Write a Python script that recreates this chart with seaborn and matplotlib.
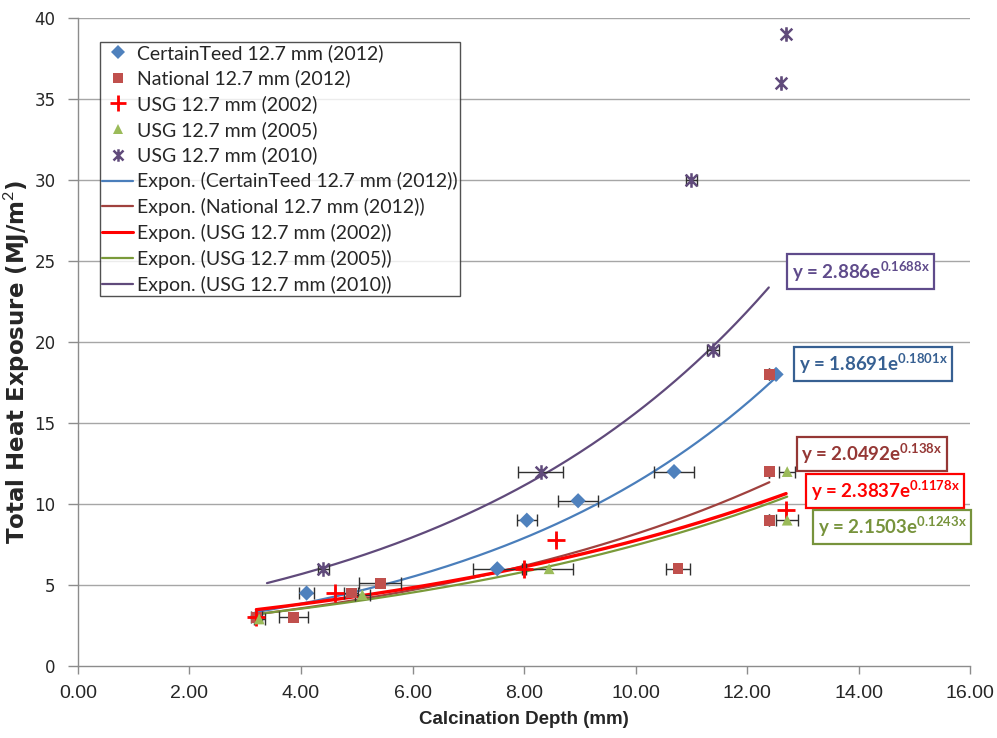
import numpy as np
import pandas as pd
import matplotlib
matplotlib.use("Agg")
import matplotlib.pyplot as plt
from matplotlib.path import Path
from matplotlib.lines import Line2D
import seaborn as sns

# Calcination depth (mm) vs. total heat exposure (MJ/m2), with depth scatter (+/- mm)
ct_depth = [3.2, 4.1, 7.52, 8.05, 8.97, 10.69, 12.52]
ct_heat = [3.0, 4.5, 6.0, 9.0, 10.2, 12.0, 18.0]
ct_err = [0.0, 0.13, 0.44, 0.18, 0.36, 0.36, 0.0]

nat_depth = [3.2, 3.87, 4.9, 5.42, 10.76, 12.4, 12.4, 12.4]
nat_heat = [3.0, 3.0, 4.5, 5.1, 6.0, 9.0, 12.0, 18.0]
nat_err = [0.0, 0.26, 0.13, 0.38, 0.22, 0.0, 0.0, 0.0]

usg02_depth = [3.2, 4.61, 8.0, 8.57, 12.7]
usg02_heat = [3.0, 4.5, 6.0, 7.8, 9.6]
usg02_err = [0.1, 0.0, 0.0, 0.0, 0.0]

usg05_depth = [3.25, 5.1, 8.45, 12.72, 12.72]
usg05_heat = [2.9, 4.4, 6.0, 9.0, 12.0]
usg05_err = [0.1, 0.13, 0.42, 0.2, 0.14]

usg10_depth = [4.4, 8.3, 11.0, 11.39, 12.61, 12.7]
usg10_heat = [6.0, 12.0, 30.0, 19.5, 36.0, 39.0]
usg10_err = [0.1, 0.4, 0.1, 0.1, 0.0, 0.0]

series_names = ["CertainTeed 12.7 mm (2012)", "National 12.7 mm (2012)",
                "USG 12.7 mm (2002)", "USG 12.7 mm (2005)", "USG 12.7 mm (2010)"]

# Exponential trendlines y = a * exp(b * x) and the depth span each one covers
fit_a = [1.8691, 2.0492, 2.3837, 2.1503, 2.886]
fit_b = [0.1801, 0.138, 0.1178, 0.1243, 0.1688]
fit_lo = [3.2, 3.2, 3.2, 3.25, 3.39]
fit_hi = [12.52, 12.4, 12.7, 12.72, 12.39]
eq_text = ["y = 1.8691e$^{\\mathbf{0.1801x}}$", "y = 2.0492e$^{\\mathbf{0.138x}}$",
           "y = 2.3837e$^{\\mathbf{0.1178x}}$", "y = 2.1503e$^{\\mathbf{0.1243x}}$",
           "y = 2.886e$^{\\mathbf{0.1688x}}$"]

x_ticks = [0, 2, 4, 6, 8, 10, 12, 14, 16]
y_ticks = [0, 5, 10, 15, 20, 25, 30, 35, 40]

sns.set_theme(style="white")
plt.rcParams["font.family"] = ["Lato", "DejaVu Sans"]
plt.rcParams["mathtext.fontset"] = "custom"
plt.rcParams["mathtext.rm"] = "Lato"
plt.rcParams["mathtext.bf"] = "Lato:bold"

fig, ax = plt.subplots(figsize=(9.97, 7.38), dpi=100)
fig.subplots_adjust(left=0.0782, right=0.973, bottom=0.0976, top=0.9756)

# Excel-style star marker: an X with a vertical bar through it
star = Path([(-1, -1), (1, 1), (-1, 1), (1, -1), (0, -1.25), (0, 1.25)],
            [Path.MOVETO, Path.LINETO, Path.MOVETO, Path.LINETO, Path.MOVETO, Path.LINETO])

depths = [ct_depth, nat_depth, usg02_depth, usg05_depth, usg10_depth]
heats = [ct_heat, nat_heat, usg02_heat, usg05_heat, usg10_heat]
errs = [ct_err, nat_err, usg02_err, usg05_err, usg10_err]
marker_col = ["#4F81BD", "#C0504D", "#FF0000", "#9BBB59", "#604A7B"]
markers = ["D", "s", "+", "^", star]
msize = [60, 60, 150, 60, 110]
mlw = [0, 0, 2.0, 0, 1.8]
line_col = ["#4A7EBB", "#A0413E", "#FF0000", "#7A9A3A", "#604A7B"]
line_w = [1.6, 1.6, 2.4, 1.6, 1.6]
box_col = ["#376092", "#953735", "#FF0000", "#77933C", "#5F4B8B"]
eq_pos = [(14.26, 18.64), (14.24, 13.09), (14.48, 10.80), (14.6, 8.58), (14.04, 24.35)]

# horizontal gridlines
for yv in y_ticks[1:]:
    ax.axhline(yv, color="#A6A6A6", lw=1.0, zorder=0)

for i in range(5):
    xs = np.linspace(fit_lo[i], fit_hi[i], 200)
    df_fit = pd.DataFrame({"depth": xs, "heat": fit_a[i] * np.exp(fit_b[i] * xs)})
    sns.lineplot(data=df_fit, x="depth", y="heat", color=line_col[i], lw=line_w[i],
                 ax=ax, legend=False, zorder=2, sort=False)

for i in range(5):
    ax.errorbar(depths[i], heats[i], xerr=errs[i], fmt="none", ecolor="#303030",
                elinewidth=1.0, capsize=4, capthick=1.0, zorder=3)
    df_pts = pd.DataFrame({"depth": depths[i], "heat": heats[i]})
    if mlw[i] > 0:
        sns.scatterplot(data=df_pts, x="depth", y="heat", marker=markers[i], s=msize[i],
                        color=marker_col[i], edgecolor=marker_col[i], linewidth=mlw[i],
                        ax=ax, zorder=4, legend=False)
    else:
        sns.scatterplot(data=df_pts, x="depth", y="heat", marker=markers[i], s=msize[i],
                        color=marker_col[i], edgecolor="none", ax=ax, zorder=4, legend=False)

# trendline equations
for i in range(5):
    ax.text(eq_pos[i][0], eq_pos[i][1], eq_text[i], color=box_col[i], fontsize=13.5,
            fontweight="bold", ha="center", va="center", zorder=6,
            bbox=dict(boxstyle="square,pad=0.25", fc="white", ec=box_col[i], lw=1.6))

ax.set_xlim(0, 16)
ax.set_ylim(0, 40)
ax.set_xticks(x_ticks)
ax.set_xticklabels([f"{v:.2f}" for v in x_ticks], family="Liberation Sans",
                   fontsize=14, color="#262626")
ax.set_yticks(y_ticks)
ax.set_yticklabels([str(v) for v in y_ticks], family="DejaVu Sans", fontsize=12, color="#262626")
ax.tick_params(axis="x", direction="out", length=6, width=1, color="#8C8C8C", pad=8, bottom=True)
ax.tick_params(axis="y", direction="out", length=7, width=1, color="#8C8C8C", pad=9, left=True)
for side in ["top", "right"]:
    ax.spines[side].set_visible(False)
for side in ["left", "bottom"]:
    ax.spines[side].set_color("#8C8C8C")
    ax.spines[side].set_linewidth(1.0)

ax.set_xlabel("Calcination Depth (mm)", family="Liberation Sans",
              fontweight="bold", fontsize=13.5, color="#262626", labelpad=6)
ax.set_ylabel("Total Heat Exposure (MJ/m$^2$)", family="DejaVu Sans", fontweight="bold",
              fontsize=16.5, color="#262626")
ax.yaxis.set_label_coords(-0.053, 0.47)

handles = []
for i in range(5):
    if markers[i] == "+":
        h = Line2D([], [], ls="none", marker="+", ms=11, mew=2.0, color=marker_col[i])
    elif i == 4:
        h = Line2D([], [], ls="none", marker=star, ms=9, mew=1.8, color=marker_col[i])
    else:
        h = Line2D([], [], ls="none", marker=markers[i], ms=7, mew=0, color=marker_col[i])
    handles.append(h)
labels = list(series_names)
for i in range(5):
    handles.append(Line2D([], [], color=line_col[i], lw=1.6 if i != 2 else 2.2))
    labels.append(f"Expon. ({series_names[i]})")

leg = ax.legend(handles, labels, loc="upper left", bbox_to_anchor=(0.0247, 0.963),
                borderaxespad=0, frameon=True, fancybox=False, fontsize=14,
                handlelength=1.6, handletextpad=0.2, labelspacing=0.4, borderpad=0.1)
leg.get_frame().set_edgecolor("#262626")
leg.get_frame().set_linewidth(1.0)
leg.set_zorder(7)

fig.savefig("out.png", dpi=100)
